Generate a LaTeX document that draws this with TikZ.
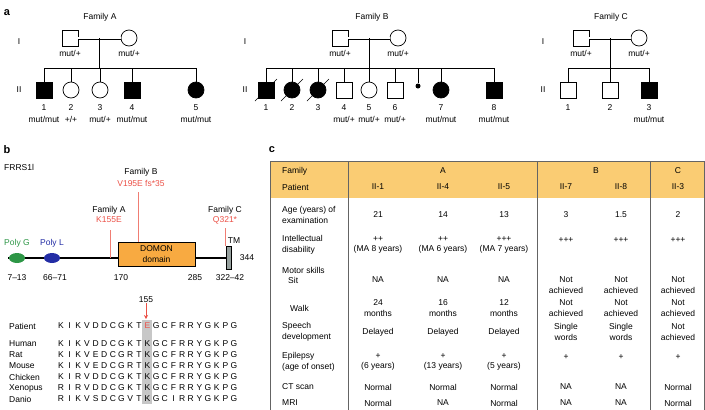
\documentclass[tikz,border=0pt]{standalone}
\usepackage{fontspec}
\setmainfont{Liberation Sans}
\usepackage{tikz}
\usepackage{xcolor}
\usetikzlibrary{arrows.meta, positioning, shapes, calc}
\definecolor{mutred}{RGB}{235, 80, 70}
\definecolor{mutline}{RGB}{240, 125, 115}
\definecolor{polyg}{RGB}{45, 150, 70}
\definecolor{polyl}{RGB}{35, 45, 165}
\definecolor{domonor}{RGB}{248, 170, 65}
\definecolor{tmgray}{RGB}{150, 160, 158}
\definecolor{hdrfill}{RGB}{250, 204, 115}
\definecolor{tabrule}{RGB}{100, 100, 100}
\newcommand{\fs}{\fontsize{8.5}{10.5}\selectfont}
\newcommand{\gMM}{mut/mut}
\newcommand{\gMP}{mut/+}
\newcommand{\gPP}{+/+}

\begin{document}
\begin{tikzpicture}[x=1pt,y=-1pt,
          every node/.style={font=\fs,inner sep=0pt},
          panel/.style={font=\fontsize{11}{13}\selectfont\bfseries},
          male/.style={rectangle,draw,minimum size=16pt,line width=0.7pt},
          maleaff/.style={male,fill=black},
          fem/.style={circle,draw,minimum size=16pt,line width=0.7pt},
          femaff/.style={fem,fill=black},
          ped/.style={line width=0.7pt},
          marr/.style={double,double distance=1.8pt,line width=0.6pt},
          mutln/.style={mutline,line width=0.8pt},
          cell/.style={align=center},
          rowlbl/.style={align=left,anchor=west}]
        \useasboundingbox (0,0) rectangle (705,410);
        % ---- a: pedigrees
        \node[panel](pa) at (7,13){a};
        % Family A
        \node(famA) at (100,17){Family A};
        \node(aGI) at (19,42){I};
        \node(aGII) at (19,90){II};
        \node[male](a1) at (70,38){};
        \node[fem](a2) at (129,38){};
        \node(a1g) at (70,53){\gMP};
        \node(a2g) at (129,53){\gMP};
        \draw[marr](a1)--(a2);
        \coordinate(aMid) at ($(a1)!.5!(a2)$);
        \coordinate(aSib) at (0,68);
        \draw[ped](aMid)--(aMid |- aSib);
        \foreach \i/\x/\s/\g in {1/44/maleaff/\gMM, 2/71/fem/\gPP,
            3/100/fem/\gMP, 4/132/maleaff/\gMM, 5/196/femaff/\gMM}{
          \node[\s](aII\i) at (\x,90){};
          \node(aN\i) at (\x,108){\i};
          \node(aG\i) at (\x,119){\g};
          \draw[ped](aII\i.north)--(aII\i.north |- aSib);
        }
        \draw[ped](aII1.north |- aSib)--(aII5.north |- aSib);
        % Family B
        \node(famB) at (372,17){Family B};
        \node(bGI) at (245,42){I};
        \node(bGII) at (245,90){II};
        \node[male](b1) at (340,38){};
        \node[fem](b2) at (398,38){};
        \node(b1g) at (340,53){\gMP};
        \node(b2g) at (398,53){\gMP};
        \draw[marr](b1)--(b2);
        \coordinate(bMid) at ($(b1)!.5!(b2)$);
        \coordinate(bSib) at (0,68);
        \draw[ped](bMid)--(bMid |- bSib);
        \foreach \i/\x/\s/\g in {1/266/maleaff/{}, 2/292/femaff/{},
            3/318/femaff/{}, 4/344/male/\gMP, 5/369/fem/\gMP,
            6/395/male/\gMP, 7/441/femaff/\gMM, 8/494/maleaff/\gMM}{
          \node[\s](bII\i) at (\x,90){};
          \node(bN\i) at (\x,108){\i};
          \node(bG\i) at (\x,119){\g};
          \draw[ped](bII\i.north)--(bII\i.north |- bSib);
        }
        \foreach \i in {1,2,3}
          \draw[ped]([shift={(-11,11)}]bII\i.center)--([shift={(11,-11)}]bII\i.center);
        \node[circle,fill,minimum size=5pt](bDot) at (418,86){};
        \draw[ped](bDot.north)--(bDot.north |- bSib);
        \draw[ped](bII1.north |- bSib)--(bII8.north |- bSib);
        % Family C
        \node(famC) at (611,17){Family C};
        \node(cGI) at (543,42){I};
        \node(cGII) at (543,90){II};
        \node[male](c1) at (581,38){};
        \node[fem](c2) at (639,38){};
        \node(c1g) at (581,53){\gMP};
        \node(c2g) at (639,53){\gMP};
        \draw[marr](c1)--(c2);
        \coordinate(cMid) at ($(c1)!.5!(c2)$);
        \coordinate(cSib) at (0,68);
        \draw[ped](cMid)--(cMid |- cSib);
        \foreach \i/\x/\s/\g in {1/568/male/{}, 2/610/male/{}, 3/649/maleaff/\gMM}{
          \node[\s](cII\i) at (\x,90){};
          \node(cN\i) at (\x,108){\i};
          \node(cG\i) at (\x,119){\g};
          \draw[ped](cII\i.north)--(cII\i.north |- cSib);
        }
        \draw[ped](cII1.north |- cSib)--(cII3.north |- cSib);
        % ---- b: protein
        \node[panel](pb) at (7,150){b};
        \node[anchor=west](gene) at (4,167){FRRS1l};
        \coordinate(protL) at (8,258);
        \coordinate(protR) at (228,258);
        \draw[line width=2pt](protL)--(protR);
        \node[ellipse,fill=polyg,minimum width=16pt,minimum height=10pt](polyG) at (17,258){};
        \node[ellipse,fill=polyl,minimum width=16pt,minimum height=10pt](polyL) at (52,258){};
        \node[polyg](polyGl) at (17,243){Poly G};
        \node[polyl](polyLl) at (52,243){Poly L};
        \node[draw,fill=domonor,line width=0.8pt,minimum width=77pt,minimum height=24pt,
              align=center](domon) at (156.5,254){DOMON\\domain};
        \node[draw,fill=tmgray,line width=0.7pt,minimum width=5.5pt,minimum height=23pt](tm)
          at (229,257.5){};
        \node(tmL) at (234,241){TM};
        \node(len) at (247,258){344};
        \foreach \x/\t in {17/7--13, 55/66--71, 121/170, 195/285, 230/322--42}
          \node(pos\x) at (\x,278){\t};
        \node(famAb) at (109,210){Family A};
        \node[mutred](mutA) at (109,220){K155E};
        \node(famBb) at (141,172){Family B};
        \node[mutred](mutB) at (141,183){V195E fs*35};
        \node(famCb) at (225,210){Family C};
        \node[mutred](mutC) at (225,220){Q321*};
        \coordinate(lnA) at (110,230);
        \coordinate(lnB) at (138,192);
        \coordinate(lnC) at (225,228);
        \draw[mutln](lnA)--(lnA |- protL);
        \draw[mutln](lnB)--(lnB |- domon.north);
        \draw[mutln](lnC)--(lnC |- tm.north);
        % alignment
        \fill[black!22](142,320) rectangle (152,404);
        \node(n155) at (146,300){155};
        \coordinate(tip155) at (146,319);
        \draw[mutred,line width=0.8pt,-{Stealth[length=4pt,width=4pt]}](n155.south)--(tip155);
        \foreach \sp/\y/\sq in {
            Patient/326/{K,I,K,V,D,D,C,G,K,T,\textcolor{mutred}{E},G,C,F,R,R,Y,G,K,P,G},
            Human/344/{K,I,K,V,D,D,C,G,K,T,K,G,C,F,R,R,Y,G,K,P,G},
            Rat/355/{K,I,K,V,E,D,C,G,R,T,K,G,C,F,R,R,Y,G,K,P,G},
            Mouse/366/{K,I,K,V,E,D,C,G,R,T,K,G,C,F,R,R,Y,G,K,P,G},
            Chicken/377/{K,I,R,V,D,D,C,G,K,T,K,G,C,F,R,R,Y,G,K,P,G},
            Xenopus/388/{R,I,R,V,D,D,C,G,K,T,K,G,C,F,R,R,Y,G,K,P,G},
            Danio/399/{R,I,K,V,S,D,C,G,V,T,K,G,C,I,R,R,Y,G,K,P,G}}{
          \node[anchor=west](sp\sp) at (9,\y){\sp};
          \foreach \aa [count=\k from 0] in \sq
            \node(aa\sp\k) at (61+\k*8.65,\y){\aa};
        }
        % ---- c: table
        \node[panel](pc) at (272,150){c};
        \fill[hdrfill](270,161) rectangle (704,198);
        \draw[tabrule,line width=0.8pt](270,410)--(270,161)--(704,161)--(704,410);
        \foreach \x in {348,537,650}
          \draw[tabrule,line width=0.8pt](\x,161)--(\x,410);
        \node[rowlbl](rFam) at (282,171){Family};
        \node[rowlbl](rPat) at (282,187){Patient};
        \node(hA) at (443,171){A};
        \node(hB) at (596,171){B};
        \node(hC) at (678,171){C};
        \foreach \x/\v in {378/II-1, 443/II-4, 504/II-5, 566/II-7, 621/II-8, 678/II-3}
          \node(pat\x) at (\x,187){\v};
        \node[rowlbl](rAge) at (282,215){Age (years) of\\examination};
        \foreach \x/\v in {378/21, 443/14, 504/13, 566/3, 621/1.5, 678/2}
          \node(age\x) at (\x,215){\v};
        \node[rowlbl](rID) at (282,245){Intellectual\\disability};
        \foreach \x/\v in {378/{++\\(MA 8 years)}, 443/{++\\(MA 6 years)}, 504/{+++\\(MA 7 years)}}
          \node[cell](id\x) at (\x,245){\v};
        \foreach \x in {566,621,678}
          \node(id\x) at (\x,240){+++};
        \node[rowlbl](rMot) at (282,270){Motor skills};
        \node[rowlbl](rSit) at (288,280){Sit};
        \foreach \x in {378,443,504}
          \node(sit\x) at (\x,280){NA};
        \foreach \x in {566,621,678}
          \node[cell](sit\x) at (\x,285){Not\\achieved};
        \node[rowlbl](rWalk) at (290,308){Walk};
        \foreach \x/\v in {378/{24\\months}, 443/{16\\months}, 504/{12\\months},
            566/{Not\\achieved}, 621/{Not\\achieved}, 678/{Not\\achieved}}
          \node[cell](walk\x) at (\x,308){\v};
        \node[rowlbl](rSpe) at (282,332){Speech\\development};
        \foreach \x/\v in {378/Delayed, 443/Delayed, 504/Delayed,
            566/{Single\\words}, 621/{Single\\words}, 678/{Not\\achieved}}
          \node[cell](spe\x) at (\x,332){\v};
        \node[rowlbl](rEpi) at (282,362){Epilepsy\\(age of onset)};
        \foreach \x/\v in {378/{+\\(6 years)}, 443/{+\\(13 years)}, 504/{+\\(5 years)}}
          \node[cell](epi\x) at (\x,362){\v};
        \foreach \x in {566,621,678}
          \node(epi\x) at (\x,357){+};
        \node[rowlbl](rCT) at (282,387){CT scan};
        \foreach \x/\v in {378/Normal, 443/Normal, 504/Normal, 566/NA, 621/NA, 678/Normal}
          \node(ct\x) at (\x,387){\v};
        \node[rowlbl](rMRI) at (282,403){MRI};
        \foreach \x/\v in {378/Normal, 443/NA, 504/Normal, 566/NA, 621/NA, 678/Normal}
          \node(mri\x) at (\x,403){\v};
      \end{tikzpicture}
\end{document}
